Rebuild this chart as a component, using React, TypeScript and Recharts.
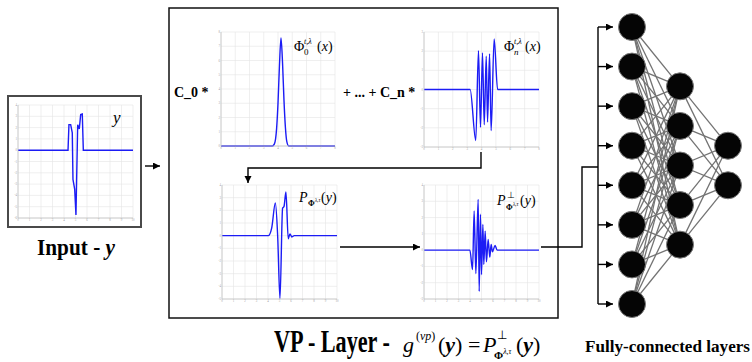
import React from "react";
import {
  LineChart,
  Line,
  XAxis,
  YAxis,
  CartesianGrid,
  ScatterChart,
  Scatter,
} from "recharts";

// signals (x in grid steps, y in plot units)
const inputX = [0, 4.35, 4.43, 4.58, 4.72, 4.78, 4.93, 5.04, 5.19, 5.33, 5.45, 5.59, 5.68, 10];
const inputY = [0, 0, 2.26, 2.26, 1.53, -2.59, -3.47, -5.74, 2.26, 1.88, 3.15, 3.2, 0, 0];

const phi0X = [0, 3.6, 3.75, 3.9, 4.0, 4.1, 4.21, 4.32, 4.42, 4.52, 4.62, 4.75, 8];
const phi0Y = [0, 0, 0.15, 1.2, 3.0, 5.6, 7.58, 5.8, 3.2, 1.3, 0.3, 0, 0];

const phiNX = [0, 3.21, 3.6, 3.79, 3.93, 4.07, 4.19, 4.33, 4.42, 4.56, 4.67, 4.88, 5.12, 8];
const phiNY = [0, 0, -2.66, 2.03, -1.97, 1.91, -1.84, 1.74, -1.7, 1.86, -2.14, 2.64, 0, 0];

const projX = [0, 4.03, 4.32, 4.64, 4.84, 5.04, 5.27, 5.39, 5.56, 5.76, 5.91, 6.08, 6.28, 10];
const projY = [0, 0, 0.6, 2.58, 0, -4.97, 2.18, 2.3, 3.45, -0.24, 0.13, -0.1, 0, 0];

const perpX = [0, 3.99, 4.22, 4.36, 4.51, 4.71, 4.8, 4.91, 5.0, 5.12, 5.2, 5.32, 5.43, 5.58, 5.72, 5.84, 5.95, 6.18, 6.36, 10];
const perpY = [0, 0, -1.19, 2.4, -1.44, 3.12, -2.53, 2.2, -1.5, 1.58, -0.88, 1.17, -0.72, 0.66, -0.43, 0.35, -0.1, 0.29, 0, 0];

// grid ticks of the small plots
const ticks0to10 = [0, 1, 2, 3, 4, 5, 6, 7, 8, 9, 10];
const ticks0to8 = [0, 1, 2, 3, 4, 5, 6, 7, 8];
const ticksM6to4 = [-6, -5, -4, -3, -2, -1, 0, 1, 2, 3, 4];
const ticksM3to3 = [-3, -2, -1, 0, 1, 2, 3];
const ticksM5to4 = [-5, -4, -3, -2, -1, 0, 1, 2, 3, 4];
const ticksM3to4 = [-3, -2, -1, 0, 1, 2, 3, 4];

// neurons per fully-connected layer
const layerSizes = [8, 5, 2];

const BLUE = "#1c1cf5";
const SERIF = "'Liberation Serif', 'Times New Roman', serif";

type Pt = { x: number; y: number };

const zip = (xs: number[], ys: number[]): Pt[] => xs.map((x, i) => ({ x, y: ys[i] }));

function MiniPlot(props: {
  left: number;
  top: number;
  w: number;
  h: number;
  xs: number[];
  ys: number[];
  xTicks: number[];
  yTicks: number[];
  curve: "linear" | "monotone";
}) {
  const { left, top, w, h, xs, ys, xTicks, yTicks, curve } = props;
  const tick = { fontSize: 3, fill: "#a0a0a0" };
  // plot area sits at (left, top); axes take 8px on the left and 6px below
  return (
    <div style={{ position: "absolute", left: left - 8, top: top - 3 }}>
      <LineChart
        width={w + 13}
        height={h + 9}
        data={zip(xs, ys)}
        margin={{ top: 3, right: 5, bottom: 0, left: 0 }}
      >
        <CartesianGrid stroke="#e4e4e4" strokeWidth={0.6} />
        <XAxis
          type="number"
          dataKey="x"
          domain={[xTicks[0], xTicks[xTicks.length - 1]]}
          ticks={xTicks}
          interval={0}
          height={6}
          tick={tick}
          tickLine={false}
          tickSize={0}
          tickMargin={1}
          axisLine={{ stroke: "#c4c4c4", strokeWidth: 0.8 }}
        />
        <YAxis
          type="number"
          domain={[yTicks[0], yTicks[yTicks.length - 1]]}
          ticks={yTicks}
          interval={0}
          width={8}
          tick={tick}
          tickLine={false}
          tickSize={0}
          tickMargin={1}
          axisLine={{ stroke: "#c4c4c4", strokeWidth: 0.8 }}
        />
        <Line
          type={curve}
          dataKey="y"
          stroke={BLUE}
          strokeWidth={1.4}
          dot={false}
          isAnimationActive={false}
        />
      </LineChart>
    </div>
  );
}

// neural net geometry (chart placed at 560,0 size 192x330)
const NN_TOP = 27;
const NN_BOTTOM = 304;
const nodes: Pt[][] = layerSizes.map((n, l) =>
  Array.from({ length: n }, (_, i) => ({ x: l, y: (layerSizes[0] - n) / 2 + i }))
);
const edges: Pt[][] = [];
for (let l = 0; l < nodes.length - 1; l++) {
  nodes[l].forEach((a) => nodes[l + 1].forEach((b) => edges.push([a, b])));
}
const nodeY = (y: number) => NN_TOP + (y * (NN_BOTTOM - NN_TOP)) / (layerSizes[0] - 1);

function Network() {
  return (
    <div style={{ position: "absolute", left: 560, top: 0 }}>
      <ScatterChart
        width={192}
        height={330}
        margin={{ top: NN_TOP, right: 0, bottom: 330 - NN_BOTTOM, left: 0 }}
      >
        <XAxis type="number" dataKey="x" domain={[-1.5, 2.5]} hide />
        <YAxis type="number" dataKey="y" domain={[0, layerSizes[0] - 1]} reversed hide />
        {edges.map((e, k) => (
          <Scatter
            key={"e" + k}
            data={e}
            fill="#737373"
            line={{ stroke: "#737373", strokeWidth: 1.3 }}
            shape={() => <g />}
            isAnimationActive={false}
          />
        ))}
        {nodes.map((layer, l) => (
          <Scatter
            key={"n" + l}
            data={layer}
            fill="#050505"
            shape={(p: any) => (
              <circle cx={p.cx} cy={p.cy} r={13.5} fill="#050505" stroke="#7a7a7a" strokeWidth={1} />
            )}
            isAnimationActive={false}
          />
        ))}
      </ScatterChart>
    </div>
  );
}

function Overlay() {
  const it = { fontStyle: "italic" as const };
  const bi = { fontStyle: "italic" as const, fontWeight: "bold" as const };
  return (
    <svg
      width={752}
      height={362}
      style={{ position: "absolute", left: 0, top: 0, pointerEvents: "none" }}
      fontFamily={SERIF}
    >
      <defs>
        <marker
          id="ah"
          markerUnits="userSpaceOnUse"
          markerWidth={8}
          markerHeight={8}
          refX={7}
          refY={3.5}
          orient="auto"
        >
          <path d="M0,0 L7,3.5 L0,7 z" fill="#000" />
        </marker>
      </defs>

      {/* frames */}
      <rect x={8} y={96} width={133} height={131} fill="none" stroke="#4a4a4a" strokeWidth={2} />
      <rect x={169} y={8} width={389} height={310} fill="none" stroke="#111" strokeWidth={1.5} />

      {/* connectors */}
      <g stroke="#000" strokeWidth={1.4} fill="none">
        <path d="M145 166 H160" markerEnd="url(#ah)" />
        <path d="M481 152 V168 H248 V183" markerEnd="url(#ah)" />
        <path d="M340 247 H420" markerEnd="url(#ah)" />
        <path d="M541 247 H582 V167 H598" />
        <path d={`M598 ${nodeY(nodes[0][0].y)} V${nodeY(nodes[0][nodes[0].length - 1].y)}`} />
        {nodes[0].map((n, i) => (
          <path key={i} d={`M598 ${nodeY(n.y)} H613`} markerEnd="url(#ah)" />
        ))}
      </g>

      {/* plot labels */}
      <text x={113} y={123} fontSize={17} style={it}>y</text>

      <text x={294} y={51} fontSize={14}>
        Φ
        <tspan x={304} dy={-7} fontSize={8} style={it}>t,λ</tspan>
        <tspan x={304} dy={11} fontSize={9}>0</tspan>
        <tspan x={317} dy={-4}>(</tspan>
        <tspan style={it}>x</tspan>)
      </text>

      <text x={504} y={51} fontSize={14}>
        Φ
        <tspan x={514} dy={-7} fontSize={8} style={it}>t,λ</tspan>
        <tspan x={514} dy={11} fontSize={9} style={it}>n</tspan>
        <tspan x={525} dy={-4}>(</tspan>
        <tspan style={it}>x</tspan>)
      </text>

      <text x={299} y={202} fontSize={14}>
        <tspan style={it}>P</tspan>
        <tspan x={308} dy={4} fontSize={8} fontWeight="bold">Φ</tspan>
        <tspan dy={-4} fontSize={5.5} style={it}>λ,τ</tspan>
        <tspan x={321}>(</tspan>
        <tspan style={it}>y</tspan>)
      </text>

      <text x={497} y={205} fontSize={14}>
        <tspan style={it}>P</tspan>
        <tspan x={507} dy={-7} fontSize={9}>⊥</tspan>
        <tspan x={506} dy={12} fontSize={8} fontWeight="bold">Φ</tspan>
        <tspan dy={-4} fontSize={5.5} style={it}>λ,τ</tspan>
        <tspan x={520} dy={-1}>(</tspan>
        <tspan style={it}>y</tspan>)
      </text>

      {/* coefficients */}
      <text x={174} y={97} fontSize={14} fontWeight="bold">C_0 *</text>
      <text x={343} y={97} fontSize={14} fontWeight="bold">+ ... + C_n *</text>

      {/* captions */}
      <text x={37} y={255} fontSize={24} fontWeight="bold" textLength={78} lengthAdjust="spacingAndGlyphs">
        Input - <tspan style={it}>y</tspan>
      </text>
      <text x={274} y={352} fontSize={31} fontWeight="bold" textLength={116} lengthAdjust="spacingAndGlyphs">
        VP - Layer -
      </text>
      <text x={403} y={352} fontSize={22}>
        <tspan style={it}>g</tspan>
        <tspan x={416} dy={-12} fontSize={12}>(</tspan>
        <tspan fontSize={12} style={it}>vp</tspan>
        <tspan fontSize={12}>)</tspan>
        <tspan x={438} dy={12}>(</tspan>
        <tspan style={bi}>y</tspan>
        <tspan>) = </tspan>
        <tspan x={483} style={it}>P</tspan>
        <tspan x={497} dy={-13} fontSize={12}>⊥</tspan>
        <tspan x={494} dy={20} fontSize={11} fontWeight="bold">Φ</tspan>
        <tspan dy={-5} fontSize={8} style={it}>λ,τ</tspan>
        <tspan x={516} dy={-2}>(</tspan>
        <tspan style={bi}>y</tspan>
        <tspan>)</tspan>
      </text>
      <text x={585} y={352} fontSize={17} fontWeight="bold" textLength={165} lengthAdjust="spacingAndGlyphs">
        Fully-connected layers
      </text>
    </svg>
  );
}

export default function App() {
  return (
    <div
      style={{
        position: "absolute",
        left: 0,
        top: 0,
        width: 752,
        height: 362,
        background: "#fff",
        overflow: "hidden",
        fontFamily: SERIF,
      }}
    >
      <MiniPlot left={18} top={105} w={115} h={113} xs={inputX} ys={inputY} xTicks={ticks0to10} yTicks={ticksM6to4} curve="linear" />
      <MiniPlot left={221} top={32} w={114} h={114} xs={phi0X} ys={phi0Y} xTicks={ticks0to8} yTicks={ticks0to8} curve="monotone" />
      <MiniPlot left={424} top={32} w={115} h={115} xs={phiNX} ys={phiNY} xTicks={ticks0to8} yTicks={ticksM3to3} curve="monotone" />
      <MiniPlot left={222} top={185} w={115} h={114} xs={projX} ys={projY} xTicks={ticks0to10} yTicks={ticksM5to4} curve="monotone" />
      <MiniPlot left={424} top={185} w={115} h={114} xs={perpX} ys={perpY} xTicks={ticks0to10} yTicks={ticksM3to4} curve="monotone" />
      <Network />
      <Overlay />
    </div>
  );
}
